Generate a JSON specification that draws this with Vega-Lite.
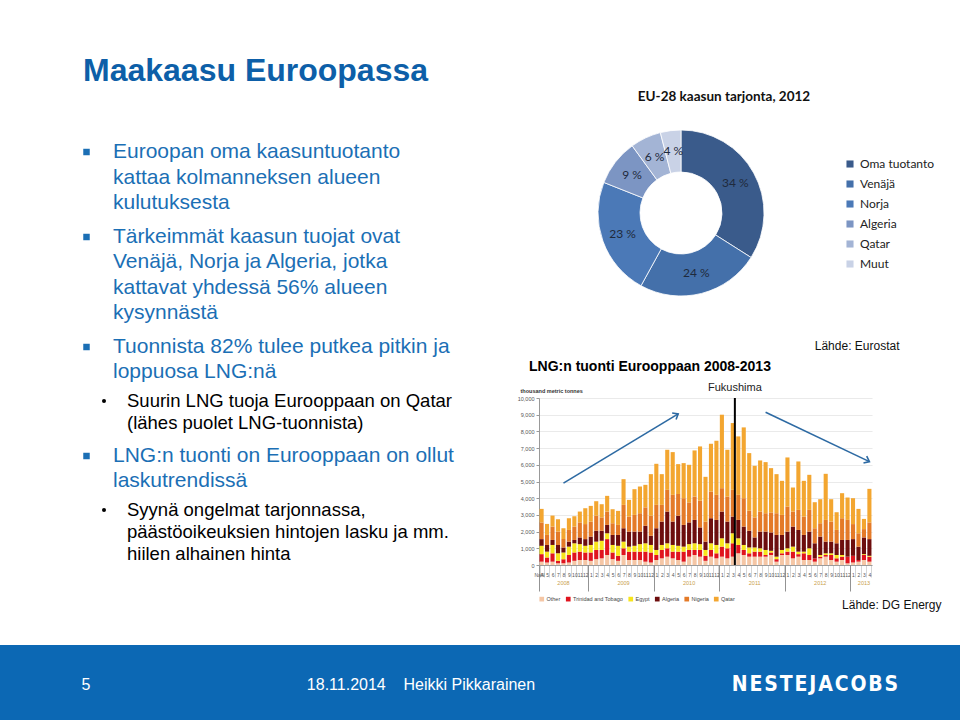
{
"$schema": "https://vega.github.io/schema/vega-lite/v6.json",
"background": "white",
"padding": 0,
"bounds": "full",
"spacing": 0,
"resolve": {"scale": {"color": "independent"}},
"config": {"view": {"stroke": null}, "font": "Liberation Sans"},
"vconcat": [
 {"hconcat": [
  {"vconcat": [
   {"width": 517, "height": 135,
    "data": {"values": [{"taso": 0, "teksti": "Maakaasu Euroopassa"}]},
    "mark": {"type": "text", "align": "left", "baseline": "middle", "fontSize": 32, "fontWeight": "bold", "color": "#0d5fa8", "dy": 3},
    "encoding": {"x": {"field": "taso", "type": "ordinal", "scale": {"type": "point", "domain": [0], "range": [83, 83], "padding": 0}, "axis": null}, "text": {"field": "teksti"}}},
   {"width": 517, "height": 85,
    "data": {"values": [{"rivi": 1, "taso": 1, "teksti": "Euroopan oma kaasuntuotanto"}, {"rivi": 2, "taso": 1, "teksti": "kattaa kolmanneksen alueen"}, {"rivi": 3, "taso": 1, "teksti": "kulutuksesta"}]},
    "encoding": {"x": {"field": "taso", "type": "ordinal", "scale": {"type": "point", "domain": [1, 2], "range": [113, 127], "padding": 0}, "axis": null},
                 "y": {"field": "rivi", "type": "ordinal", "scale": {"type": "point", "padding": 0.667}, "axis": null}},
    "layer": [
     {"mark": {"type": "text", "align": "left", "baseline": "middle", "fontSize": 21, "color": "#1b6fb5"}, "encoding": {"text": {"field": "teksti"}}},
     {"transform": [{"filter": "datum.rivi == 1"}], "mark": {"type": "square", "size": 42, "color": "#1b6fb5", "opacity": 1, "xOffset": -26.5}}
    ]},
   {"width": 517, "height": 110,
    "data": {"values": [{"rivi": 1, "taso": 1, "teksti": "Tärkeimmät kaasun tuojat ovat"}, {"rivi": 2, "taso": 1, "teksti": "Venäjä, Norja ja Algeria, jotka"}, {"rivi": 3, "taso": 1, "teksti": "kattavat yhdessä 56% alueen"}, {"rivi": 4, "taso": 1, "teksti": "kysynnästä"}]},
    "encoding": {"x": {"field": "taso", "type": "ordinal", "scale": {"type": "point", "domain": [1, 2], "range": [113, 127], "padding": 0}, "axis": null},
                 "y": {"field": "rivi", "type": "ordinal", "scale": {"type": "point", "padding": 0.671}, "axis": null}},
    "layer": [
     {"mark": {"type": "text", "align": "left", "baseline": "middle", "fontSize": 21, "color": "#1b6fb5"}, "encoding": {"text": {"field": "teksti"}}},
     {"transform": [{"filter": "datum.rivi == 1"}], "mark": {"type": "square", "size": 42, "color": "#1b6fb5", "opacity": 1, "xOffset": -26.5}}
    ]},
   {"width": 517, "height": 59,
    "data": {"values": [{"rivi": 1, "taso": 1, "teksti": "Tuonnista 82% tulee putkea pitkin ja"}, {"rivi": 2, "taso": 1, "teksti": "loppuosa LNG:nä"}]},
    "encoding": {"x": {"field": "taso", "type": "ordinal", "scale": {"type": "point", "domain": [1, 2], "range": [113, 127], "padding": 0}, "axis": null},
                 "y": {"field": "rivi", "type": "ordinal", "scale": {"type": "point", "padding": 0.68}, "axis": null}},
    "layer": [
     {"mark": {"type": "text", "align": "left", "baseline": "middle", "fontSize": 21, "color": "#1b6fb5"}, "encoding": {"text": {"field": "teksti"}}},
     {"transform": [{"filter": "datum.rivi == 1"}], "mark": {"type": "square", "size": 42, "color": "#1b6fb5", "opacity": 1, "xOffset": -26.5}}
    ]},
   {"width": 517, "height": 46,
    "data": {"values": [{"rivi": 1, "taso": 2, "teksti": "Suurin LNG tuoja Eurooppaan on Qatar"}, {"rivi": 2, "taso": 2, "teksti": "(lähes puolet LNG-tuonnista)"}]},
    "encoding": {"x": {"field": "taso", "type": "ordinal", "scale": {"type": "point", "domain": [1, 2], "range": [113, 127], "padding": 0}, "axis": null},
                 "y": {"field": "rivi", "type": "ordinal", "scale": {"type": "point", "padding": 0.5455}, "axis": null}},
    "layer": [
     {"mark": {"type": "text", "align": "left", "baseline": "middle", "fontSize": 18.5, "color": "#000000"}, "encoding": {"text": {"field": "teksti"}}},
     {"transform": [{"filter": "datum.rivi == 1"}], "mark": {"type": "circle", "size": 16, "color": "#000000", "opacity": 1, "xOffset": -23}}
    ]},
   {"width": 517, "height": 67,
    "data": {"values": [{"rivi": 1, "taso": 1, "teksti": "LNG:n tuonti on Eurooppaan on ollut"}, {"rivi": 2, "taso": 1, "teksti": "laskutrendissä"}]},
    "encoding": {"x": {"field": "taso", "type": "ordinal", "scale": {"type": "point", "domain": [1, 2], "range": [113, 127], "padding": 0}, "axis": null},
                 "y": {"field": "rivi", "type": "ordinal", "scale": {"type": "point", "padding": 0.84}, "axis": null}},
    "layer": [
     {"mark": {"type": "text", "align": "left", "baseline": "middle", "fontSize": 21, "color": "#1b6fb5"}, "encoding": {"text": {"field": "teksti"}}},
     {"transform": [{"filter": "datum.rivi == 1"}], "mark": {"type": "square", "size": 42, "color": "#1b6fb5", "opacity": 1, "xOffset": -26.5}}
    ]},
   {"width": 517, "height": 60,
    "data": {"values": [{"rivi": 1, "taso": 2, "teksti": "Syynä ongelmat tarjonnassa,"}, {"rivi": 2, "taso": 2, "teksti": "päästöoikeuksien hintojen lasku ja mm."}, {"rivi": 3, "taso": 2, "teksti": "hiilen alhainen hinta"}]},
    "encoding": {"x": {"field": "taso", "type": "ordinal", "scale": {"type": "point", "domain": [1, 2], "range": [113, 127], "padding": 0}, "axis": null},
                 "y": {"field": "rivi", "type": "ordinal", "scale": {"type": "point", "padding": 0.3636}, "axis": null}},
    "layer": [
     {"mark": {"type": "text", "align": "left", "baseline": "middle", "fontSize": 18.5, "color": "#000000"}, "encoding": {"text": {"field": "teksti"}}},
     {"transform": [{"filter": "datum.rivi == 1"}], "mark": {"type": "circle", "size": 16, "color": "#000000", "opacity": 1, "xOffset": -23}}
    ]},
   {"width": 517, "height": 83, "data": {"values": []}, "mark": "point", "encoding": {}}
  ], "spacing": 0, "bounds": "flush"},
  {"vconcat": [
   {"width": 10, "height": 100, "data": {"values": []}, "mark": "point", "encoding": {}},
   {"width": 284, "height": 226,
    "title": {"text": "EU-28 kaasun tarjonta, 2012", "font": "Lato", "fontSize": 13.5, "fontWeight": "bold", "color": "#111111", "anchor": "middle", "dx": 43, "offset": -10, "baseline": "middle", "frame": "group"},
    "data": {"values": [{"lahde": "Oma tuotanto", "osuus": 34, "jarj": 1}, {"lahde": "Venäjä", "osuus": 24, "jarj": 2}, {"lahde": "Norja", "osuus": 23, "jarj": 3}, {"lahde": "Algeria", "osuus": 9, "jarj": 4}, {"lahde": "Qatar", "osuus": 6, "jarj": 5}, {"lahde": "Muut", "osuus": 4, "jarj": 6}]},
    "encoding": {"theta": {"field": "osuus", "type": "quantitative", "stack": true}, "order": {"field": "jarj", "type": "quantitative", "sort": "ascending"}},
    "layer": [
     {"mark": {"type": "arc", "outerRadius": 83, "innerRadius": 41, "stroke": "#ffffff", "strokeWidth": 0.8},
      "encoding": {"color": {"field": "lahde", "type": "nominal", "sort": ["Oma tuotanto", "Venäjä", "Norja", "Algeria", "Qatar", "Muut"],
        "scale": {"domain": ["Oma tuotanto", "Venäjä", "Norja", "Algeria", "Qatar", "Muut"], "range": ["#3a5b8b", "#4470aa", "#4b79b7", "#7c95c3", "#a3b4d5", "#c9d2e6"]},
        "legend": {"orient": "none", "legendX": 305, "legendY": 58, "title": null, "labelFont": "Lato", "labelFontSize": 12, "labelColor": "#222222", "symbolType": "square", "symbolSize": 50, "symbolStrokeWidth": 0, "rowPadding": 8, "labelOffset": 4}}}},
     {"mark": {"type": "text", "radius": 62, "font": "Lato", "fontSize": 12, "color": "#1f2a3c"},
      "encoding": {"text": {"value": {"expr": "datum.osuus + ' %'"}}}}
    ]},
   {"width": 10, "height": 72, "data": {"values": []}, "mark": "point", "encoding": {}},
   {"width": 333, "height": 167,
    "title": {"text": "LNG:n tuonti Eurooppaan 2008-2013", "anchor": "start", "dx": -10, "frame": "group", "offset": -41, "baseline": "middle", "fontSize": 14, "fontWeight": "bold", "font": "Liberation Sans", "color": "#000000"},
    "resolve": {"axis": {"x": "independent", "y": "independent"}},
    "layer": [
     {"data": {"values": [
{"kk":"2008-04","alkupera":"Other","t":200},{"kk":"2008-04","alkupera":"Trinidad and Tobago","t":450},{"kk":"2008-04","alkupera":"Egypt","t":500},{"kk":"2008-04","alkupera":"Algeria","t":400},{"kk":"2008-04","alkupera":"Nigeria","t":1000},{"kk":"2008-04","alkupera":"Qatar","t":810},
{"kk":"2008-05","alkupera":"Other","t":150},{"kk":"2008-05","alkupera":"Trinidad and Tobago","t":300},{"kk":"2008-05","alkupera":"Egypt","t":350},{"kk":"2008-05","alkupera":"Algeria","t":400},{"kk":"2008-05","alkupera":"Nigeria","t":600},{"kk":"2008-05","alkupera":"Qatar","t":660},
{"kk":"2008-06","alkupera":"Other","t":200},{"kk":"2008-06","alkupera":"Trinidad and Tobago","t":500},{"kk":"2008-06","alkupera":"Egypt","t":500},{"kk":"2008-06","alkupera":"Algeria","t":300},{"kk":"2008-06","alkupera":"Nigeria","t":800},{"kk":"2008-06","alkupera":"Qatar","t":660},
{"kk":"2008-07","alkupera":"Other","t":100},{"kk":"2008-07","alkupera":"Trinidad and Tobago","t":150},{"kk":"2008-07","alkupera":"Egypt","t":450},{"kk":"2008-07","alkupera":"Algeria","t":500},{"kk":"2008-07","alkupera":"Nigeria","t":800},{"kk":"2008-07","alkupera":"Qatar","t":740},
{"kk":"2008-08","alkupera":"Other","t":100},{"kk":"2008-08","alkupera":"Trinidad and Tobago","t":250},{"kk":"2008-08","alkupera":"Egypt","t":400},{"kk":"2008-08","alkupera":"Algeria","t":300},{"kk":"2008-08","alkupera":"Nigeria","t":500},{"kk":"2008-08","alkupera":"Qatar","t":650},
{"kk":"2008-09","alkupera":"Other","t":150},{"kk":"2008-09","alkupera":"Trinidad and Tobago","t":450},{"kk":"2008-09","alkupera":"Egypt","t":500},{"kk":"2008-09","alkupera":"Algeria","t":300},{"kk":"2008-09","alkupera":"Nigeria","t":700},{"kk":"2008-09","alkupera":"Qatar","t":700},
{"kk":"2008-10","alkupera":"Other","t":250},{"kk":"2008-10","alkupera":"Trinidad and Tobago","t":500},{"kk":"2008-10","alkupera":"Egypt","t":550},{"kk":"2008-10","alkupera":"Algeria","t":200},{"kk":"2008-10","alkupera":"Nigeria","t":800},{"kk":"2008-10","alkupera":"Qatar","t":620},
{"kk":"2008-11","alkupera":"Other","t":300},{"kk":"2008-11","alkupera":"Trinidad and Tobago","t":500},{"kk":"2008-11","alkupera":"Egypt","t":450},{"kk":"2008-11","alkupera":"Algeria","t":400},{"kk":"2008-11","alkupera":"Nigeria","t":900},{"kk":"2008-11","alkupera":"Qatar","t":650},
{"kk":"2008-12","alkupera":"Other","t":300},{"kk":"2008-12","alkupera":"Trinidad and Tobago","t":450},{"kk":"2008-12","alkupera":"Egypt","t":400},{"kk":"2008-12","alkupera":"Algeria","t":400},{"kk":"2008-12","alkupera":"Nigeria","t":900},{"kk":"2008-12","alkupera":"Qatar","t":950},
{"kk":"2009-01","alkupera":"Other","t":250},{"kk":"2009-01","alkupera":"Trinidad and Tobago","t":500},{"kk":"2009-01","alkupera":"Egypt","t":450},{"kk":"2009-01","alkupera":"Algeria","t":500},{"kk":"2009-01","alkupera":"Nigeria","t":900},{"kk":"2009-01","alkupera":"Qatar","t":940},
{"kk":"2009-02","alkupera":"Other","t":350},{"kk":"2009-02","alkupera":"Trinidad and Tobago","t":550},{"kk":"2009-02","alkupera":"Egypt","t":500},{"kk":"2009-02","alkupera":"Algeria","t":650},{"kk":"2009-02","alkupera":"Nigeria","t":900},{"kk":"2009-02","alkupera":"Qatar","t":870},
{"kk":"2009-03","alkupera":"Other","t":400},{"kk":"2009-03","alkupera":"Trinidad and Tobago","t":500},{"kk":"2009-03","alkupera":"Egypt","t":550},{"kk":"2009-03","alkupera":"Algeria","t":600},{"kk":"2009-03","alkupera":"Nigeria","t":800},{"kk":"2009-03","alkupera":"Qatar","t":790},
{"kk":"2009-04","alkupera":"Other","t":600},{"kk":"2009-04","alkupera":"Trinidad and Tobago","t":950},{"kk":"2009-04","alkupera":"Egypt","t":350},{"kk":"2009-04","alkupera":"Algeria","t":500},{"kk":"2009-04","alkupera":"Nigeria","t":800},{"kk":"2009-04","alkupera":"Qatar","t":940},
{"kk":"2009-05","alkupera":"Other","t":350},{"kk":"2009-05","alkupera":"Trinidad and Tobago","t":400},{"kk":"2009-05","alkupera":"Egypt","t":450},{"kk":"2009-05","alkupera":"Algeria","t":600},{"kk":"2009-05","alkupera":"Nigeria","t":700},{"kk":"2009-05","alkupera":"Qatar","t":840},
{"kk":"2009-06","alkupera":"Other","t":250},{"kk":"2009-06","alkupera":"Trinidad and Tobago","t":300},{"kk":"2009-06","alkupera":"Egypt","t":600},{"kk":"2009-06","alkupera":"Algeria","t":650},{"kk":"2009-06","alkupera":"Nigeria","t":600},{"kk":"2009-06","alkupera":"Qatar","t":840},
{"kk":"2009-07","alkupera":"Other","t":600},{"kk":"2009-07","alkupera":"Trinidad and Tobago","t":400},{"kk":"2009-07","alkupera":"Egypt","t":400},{"kk":"2009-07","alkupera":"Algeria","t":800},{"kk":"2009-07","alkupera":"Nigeria","t":1400},{"kk":"2009-07","alkupera":"Qatar","t":1540},
{"kk":"2009-08","alkupera":"Other","t":300},{"kk":"2009-08","alkupera":"Trinidad and Tobago","t":500},{"kk":"2009-08","alkupera":"Egypt","t":300},{"kk":"2009-08","alkupera":"Algeria","t":900},{"kk":"2009-08","alkupera":"Nigeria","t":900},{"kk":"2009-08","alkupera":"Qatar","t":1000},
{"kk":"2009-09","alkupera":"Other","t":300},{"kk":"2009-09","alkupera":"Trinidad and Tobago","t":500},{"kk":"2009-09","alkupera":"Egypt","t":350},{"kk":"2009-09","alkupera":"Algeria","t":850},{"kk":"2009-09","alkupera":"Nigeria","t":1000},{"kk":"2009-09","alkupera":"Qatar","t":1540},
{"kk":"2009-10","alkupera":"Other","t":300},{"kk":"2009-10","alkupera":"Trinidad and Tobago","t":500},{"kk":"2009-10","alkupera":"Egypt","t":450},{"kk":"2009-10","alkupera":"Algeria","t":750},{"kk":"2009-10","alkupera":"Nigeria","t":1100},{"kk":"2009-10","alkupera":"Qatar","t":1600},
{"kk":"2009-11","alkupera":"Other","t":200},{"kk":"2009-11","alkupera":"Trinidad and Tobago","t":600},{"kk":"2009-11","alkupera":"Egypt","t":500},{"kk":"2009-11","alkupera":"Algeria","t":1050},{"kk":"2009-11","alkupera":"Nigeria","t":1100},{"kk":"2009-11","alkupera":"Qatar","t":1350},
{"kk":"2009-12","alkupera":"Other","t":150},{"kk":"2009-12","alkupera":"Trinidad and Tobago","t":600},{"kk":"2009-12","alkupera":"Egypt","t":450},{"kk":"2009-12","alkupera":"Algeria","t":550},{"kk":"2009-12","alkupera":"Nigeria","t":1200},{"kk":"2009-12","alkupera":"Qatar","t":2490},
{"kk":"2010-01","alkupera":"Other","t":300},{"kk":"2010-01","alkupera":"Trinidad and Tobago","t":300},{"kk":"2010-01","alkupera":"Egypt","t":300},{"kk":"2010-01","alkupera":"Algeria","t":1300},{"kk":"2010-01","alkupera":"Nigeria","t":1400},{"kk":"2010-01","alkupera":"Qatar","t":2460},
{"kk":"2010-02","alkupera":"Other","t":400},{"kk":"2010-02","alkupera":"Trinidad and Tobago","t":500},{"kk":"2010-02","alkupera":"Egypt","t":300},{"kk":"2010-02","alkupera":"Algeria","t":1400},{"kk":"2010-02","alkupera":"Nigeria","t":1000},{"kk":"2010-02","alkupera":"Qatar","t":1840},
{"kk":"2010-03","alkupera":"Other","t":500},{"kk":"2010-03","alkupera":"Trinidad and Tobago","t":500},{"kk":"2010-03","alkupera":"Egypt","t":300},{"kk":"2010-03","alkupera":"Algeria","t":1900},{"kk":"2010-03","alkupera":"Nigeria","t":1300},{"kk":"2010-03","alkupera":"Qatar","t":2400},
{"kk":"2010-04","alkupera":"Other","t":400},{"kk":"2010-04","alkupera":"Trinidad and Tobago","t":400},{"kk":"2010-04","alkupera":"Egypt","t":400},{"kk":"2010-04","alkupera":"Algeria","t":1400},{"kk":"2010-04","alkupera":"Nigeria","t":1600},{"kk":"2010-04","alkupera":"Qatar","t":2560},
{"kk":"2010-05","alkupera":"Other","t":300},{"kk":"2010-05","alkupera":"Trinidad and Tobago","t":500},{"kk":"2010-05","alkupera":"Egypt","t":350},{"kk":"2010-05","alkupera":"Algeria","t":1800},{"kk":"2010-05","alkupera":"Nigeria","t":1300},{"kk":"2010-05","alkupera":"Qatar","t":1790},
{"kk":"2010-06","alkupera":"Other","t":200},{"kk":"2010-06","alkupera":"Trinidad and Tobago","t":600},{"kk":"2010-06","alkupera":"Egypt","t":300},{"kk":"2010-06","alkupera":"Algeria","t":1300},{"kk":"2010-06","alkupera":"Nigeria","t":1600},{"kk":"2010-06","alkupera":"Qatar","t":2100},
{"kk":"2010-07","alkupera":"Other","t":500},{"kk":"2010-07","alkupera":"Trinidad and Tobago","t":400},{"kk":"2010-07","alkupera":"Egypt","t":350},{"kk":"2010-07","alkupera":"Algeria","t":1300},{"kk":"2010-07","alkupera":"Nigeria","t":1200},{"kk":"2010-07","alkupera":"Qatar","t":2250},
{"kk":"2010-08","alkupera":"Other","t":600},{"kk":"2010-08","alkupera":"Trinidad and Tobago","t":300},{"kk":"2010-08","alkupera":"Egypt","t":400},{"kk":"2010-08","alkupera":"Algeria","t":1400},{"kk":"2010-08","alkupera":"Nigeria","t":1400},{"kk":"2010-08","alkupera":"Qatar","t":2760},
{"kk":"2010-09","alkupera":"Other","t":500},{"kk":"2010-09","alkupera":"Trinidad and Tobago","t":400},{"kk":"2010-09","alkupera":"Egypt","t":350},{"kk":"2010-09","alkupera":"Algeria","t":1000},{"kk":"2010-09","alkupera":"Nigeria","t":1600},{"kk":"2010-09","alkupera":"Qatar","t":3250},
{"kk":"2010-10","alkupera":"Other","t":250},{"kk":"2010-10","alkupera":"Trinidad and Tobago","t":300},{"kk":"2010-10","alkupera":"Egypt","t":350},{"kk":"2010-10","alkupera":"Algeria","t":500},{"kk":"2010-10","alkupera":"Nigeria","t":1200},{"kk":"2010-10","alkupera":"Qatar","t":2680},
{"kk":"2010-11","alkupera":"Other","t":500},{"kk":"2010-11","alkupera":"Trinidad and Tobago","t":400},{"kk":"2010-11","alkupera":"Egypt","t":400},{"kk":"2010-11","alkupera":"Algeria","t":1500},{"kk":"2010-11","alkupera":"Nigeria","t":1600},{"kk":"2010-11","alkupera":"Qatar","t":2860},
{"kk":"2010-12","alkupera":"Other","t":400},{"kk":"2010-12","alkupera":"Trinidad and Tobago","t":300},{"kk":"2010-12","alkupera":"Egypt","t":500},{"kk":"2010-12","alkupera":"Algeria","t":1500},{"kk":"2010-12","alkupera":"Nigeria","t":1500},{"kk":"2010-12","alkupera":"Qatar","t":3240},
{"kk":"2011-01","alkupera":"Other","t":500},{"kk":"2011-01","alkupera":"Trinidad and Tobago","t":600},{"kk":"2011-01","alkupera":"Egypt","t":500},{"kk":"2011-01","alkupera":"Algeria","t":1600},{"kk":"2011-01","alkupera":"Nigeria","t":1400},{"kk":"2011-01","alkupera":"Qatar","t":4400},
{"kk":"2011-02","alkupera":"Other","t":400},{"kk":"2011-02","alkupera":"Trinidad and Tobago","t":600},{"kk":"2011-02","alkupera":"Egypt","t":300},{"kk":"2011-02","alkupera":"Algeria","t":1300},{"kk":"2011-02","alkupera":"Nigeria","t":1500},{"kk":"2011-02","alkupera":"Qatar","t":2800},
{"kk":"2011-03","alkupera":"Other","t":500},{"kk":"2011-03","alkupera":"Trinidad and Tobago","t":800},{"kk":"2011-03","alkupera":"Egypt","t":600},{"kk":"2011-03","alkupera":"Algeria","t":1000},{"kk":"2011-03","alkupera":"Nigeria","t":1600},{"kk":"2011-03","alkupera":"Qatar","t":4000},
{"kk":"2011-04","alkupera":"Other","t":700},{"kk":"2011-04","alkupera":"Trinidad and Tobago","t":500},{"kk":"2011-04","alkupera":"Egypt","t":400},{"kk":"2011-04","alkupera":"Algeria","t":1100},{"kk":"2011-04","alkupera":"Nigeria","t":1500},{"kk":"2011-04","alkupera":"Qatar","t":3500},
{"kk":"2011-05","alkupera":"Other","t":600},{"kk":"2011-05","alkupera":"Trinidad and Tobago","t":300},{"kk":"2011-05","alkupera":"Egypt","t":300},{"kk":"2011-05","alkupera":"Algeria","t":1100},{"kk":"2011-05","alkupera":"Nigeria","t":1700},{"kk":"2011-05","alkupera":"Qatar","t":4240},
{"kk":"2011-06","alkupera":"Other","t":500},{"kk":"2011-06","alkupera":"Trinidad and Tobago","t":200},{"kk":"2011-06","alkupera":"Egypt","t":350},{"kk":"2011-06","alkupera":"Algeria","t":1000},{"kk":"2011-06","alkupera":"Nigeria","t":1200},{"kk":"2011-06","alkupera":"Qatar","t":3450},
{"kk":"2011-07","alkupera":"Other","t":500},{"kk":"2011-07","alkupera":"Trinidad and Tobago","t":300},{"kk":"2011-07","alkupera":"Egypt","t":250},{"kk":"2011-07","alkupera":"Algeria","t":600},{"kk":"2011-07","alkupera":"Nigeria","t":1200},{"kk":"2011-07","alkupera":"Qatar","t":3090},
{"kk":"2011-08","alkupera":"Other","t":500},{"kk":"2011-08","alkupera":"Trinidad and Tobago","t":300},{"kk":"2011-08","alkupera":"Egypt","t":200},{"kk":"2011-08","alkupera":"Algeria","t":1000},{"kk":"2011-08","alkupera":"Nigeria","t":1200},{"kk":"2011-08","alkupera":"Qatar","t":3060},
{"kk":"2011-09","alkupera":"Other","t":500},{"kk":"2011-09","alkupera":"Trinidad and Tobago","t":100},{"kk":"2011-09","alkupera":"Egypt","t":300},{"kk":"2011-09","alkupera":"Algeria","t":1100},{"kk":"2011-09","alkupera":"Nigeria","t":1100},{"kk":"2011-09","alkupera":"Qatar","t":3060},
{"kk":"2011-10","alkupera":"Other","t":600},{"kk":"2011-10","alkupera":"Trinidad and Tobago","t":150},{"kk":"2011-10","alkupera":"Egypt","t":100},{"kk":"2011-10","alkupera":"Algeria","t":1100},{"kk":"2011-10","alkupera":"Nigeria","t":1200},{"kk":"2011-10","alkupera":"Qatar","t":2650},
{"kk":"2011-11","alkupera":"Other","t":200},{"kk":"2011-11","alkupera":"Trinidad and Tobago","t":150},{"kk":"2011-11","alkupera":"Egypt","t":150},{"kk":"2011-11","alkupera":"Algeria","t":1300},{"kk":"2011-11","alkupera":"Nigeria","t":1300},{"kk":"2011-11","alkupera":"Qatar","t":2340},
{"kk":"2011-12","alkupera":"Other","t":600},{"kk":"2011-12","alkupera":"Trinidad and Tobago","t":100},{"kk":"2011-12","alkupera":"Egypt","t":200},{"kk":"2011-12","alkupera":"Algeria","t":900},{"kk":"2011-12","alkupera":"Nigeria","t":1200},{"kk":"2011-12","alkupera":"Qatar","t":2040},
{"kk":"2012-01","alkupera":"Other","t":600},{"kk":"2012-01","alkupera":"Trinidad and Tobago","t":200},{"kk":"2012-01","alkupera":"Egypt","t":200},{"kk":"2012-01","alkupera":"Algeria","t":1000},{"kk":"2012-01","alkupera":"Nigeria","t":1500},{"kk":"2012-01","alkupera":"Qatar","t":2940},
{"kk":"2012-02","alkupera":"Other","t":400},{"kk":"2012-02","alkupera":"Trinidad and Tobago","t":400},{"kk":"2012-02","alkupera":"Egypt","t":300},{"kk":"2012-02","alkupera":"Algeria","t":1200},{"kk":"2012-02","alkupera":"Nigeria","t":900},{"kk":"2012-02","alkupera":"Qatar","t":1440},
{"kk":"2012-03","alkupera":"Other","t":500},{"kk":"2012-03","alkupera":"Trinidad and Tobago","t":150},{"kk":"2012-03","alkupera":"Egypt","t":150},{"kk":"2012-03","alkupera":"Algeria","t":1300},{"kk":"2012-03","alkupera":"Nigeria","t":1200},{"kk":"2012-03","alkupera":"Qatar","t":2900},
{"kk":"2012-04","alkupera":"Other","t":300},{"kk":"2012-04","alkupera":"Trinidad and Tobago","t":400},{"kk":"2012-04","alkupera":"Egypt","t":100},{"kk":"2012-04","alkupera":"Algeria","t":1000},{"kk":"2012-04","alkupera":"Nigeria","t":1100},{"kk":"2012-04","alkupera":"Qatar","t":2140},
{"kk":"2012-05","alkupera":"Other","t":300},{"kk":"2012-05","alkupera":"Trinidad and Tobago","t":300},{"kk":"2012-05","alkupera":"Egypt","t":400},{"kk":"2012-05","alkupera":"Algeria","t":1000},{"kk":"2012-05","alkupera":"Nigeria","t":1300},{"kk":"2012-05","alkupera":"Qatar","t":2100},
{"kk":"2012-06","alkupera":"Other","t":200},{"kk":"2012-06","alkupera":"Trinidad and Tobago","t":200},{"kk":"2012-06","alkupera":"Egypt","t":0},{"kk":"2012-06","alkupera":"Algeria","t":900},{"kk":"2012-06","alkupera":"Nigeria","t":900},{"kk":"2012-06","alkupera":"Qatar","t":1560},
{"kk":"2012-07","alkupera":"Other","t":400},{"kk":"2012-07","alkupera":"Trinidad and Tobago","t":100},{"kk":"2012-07","alkupera":"Egypt","t":100},{"kk":"2012-07","alkupera":"Algeria","t":1100},{"kk":"2012-07","alkupera":"Nigeria","t":800},{"kk":"2012-07","alkupera":"Qatar","t":1440},
{"kk":"2012-08","alkupera":"Other","t":500},{"kk":"2012-08","alkupera":"Trinidad and Tobago","t":100},{"kk":"2012-08","alkupera":"Egypt","t":100},{"kk":"2012-08","alkupera":"Algeria","t":700},{"kk":"2012-08","alkupera":"Nigeria","t":1300},{"kk":"2012-08","alkupera":"Qatar","t":2760},
{"kk":"2012-09","alkupera":"Other","t":300},{"kk":"2012-09","alkupera":"Trinidad and Tobago","t":300},{"kk":"2012-09","alkupera":"Egypt","t":100},{"kk":"2012-09","alkupera":"Algeria","t":700},{"kk":"2012-09","alkupera":"Nigeria","t":1200},{"kk":"2012-09","alkupera":"Qatar","t":1340},
{"kk":"2012-10","alkupera":"Other","t":200},{"kk":"2012-10","alkupera":"Trinidad and Tobago","t":200},{"kk":"2012-10","alkupera":"Egypt","t":200},{"kk":"2012-10","alkupera":"Algeria","t":700},{"kk":"2012-10","alkupera":"Nigeria","t":800},{"kk":"2012-10","alkupera":"Qatar","t":1060},
{"kk":"2012-11","alkupera":"Other","t":300},{"kk":"2012-11","alkupera":"Trinidad and Tobago","t":200},{"kk":"2012-11","alkupera":"Egypt","t":100},{"kk":"2012-11","alkupera":"Algeria","t":900},{"kk":"2012-11","alkupera":"Nigeria","t":1300},{"kk":"2012-11","alkupera":"Qatar","t":1500},
{"kk":"2012-12","alkupera":"Other","t":100},{"kk":"2012-12","alkupera":"Trinidad and Tobago","t":400},{"kk":"2012-12","alkupera":"Egypt","t":0},{"kk":"2012-12","alkupera":"Algeria","t":1000},{"kk":"2012-12","alkupera":"Nigeria","t":1200},{"kk":"2012-12","alkupera":"Qatar","t":1340},
{"kk":"2013-01","alkupera":"Other","t":150},{"kk":"2013-01","alkupera":"Trinidad and Tobago","t":400},{"kk":"2013-01","alkupera":"Egypt","t":0},{"kk":"2013-01","alkupera":"Algeria","t":1000},{"kk":"2013-01","alkupera":"Nigeria","t":900},{"kk":"2013-01","alkupera":"Qatar","t":1550},
{"kk":"2013-02","alkupera":"Other","t":200},{"kk":"2013-02","alkupera":"Trinidad and Tobago","t":100},{"kk":"2013-02","alkupera":"Egypt","t":0},{"kk":"2013-02","alkupera":"Algeria","t":800},{"kk":"2013-02","alkupera":"Nigeria","t":800},{"kk":"2013-02","alkupera":"Qatar","t":1460},
{"kk":"2013-03","alkupera":"Other","t":300},{"kk":"2013-03","alkupera":"Trinidad and Tobago","t":300},{"kk":"2013-03","alkupera":"Egypt","t":50},{"kk":"2013-03","alkupera":"Algeria","t":1000},{"kk":"2013-03","alkupera":"Nigeria","t":500},{"kk":"2013-03","alkupera":"Qatar","t":610},
{"kk":"2013-04","alkupera":"Other","t":200},{"kk":"2013-04","alkupera":"Trinidad and Tobago","t":300},{"kk":"2013-04","alkupera":"Egypt","t":50},{"kk":"2013-04","alkupera":"Algeria","t":1000},{"kk":"2013-04","alkupera":"Nigeria","t":1000},{"kk":"2013-04","alkupera":"Qatar","t":2010}
      ]},
      "transform": [{"lookup": "alkupera", "from": {"data": {"values": [{"alkupera": "Other", "pino": 1}, {"alkupera": "Trinidad and Tobago", "pino": 2}, {"alkupera": "Egypt", "pino": 3}, {"alkupera": "Algeria", "pino": 4}, {"alkupera": "Nigeria", "pino": 5}, {"alkupera": "Qatar", "pino": 6}]}, "key": "alkupera", "fields": ["pino"]}}],
      "mark": {"type": "bar"},
      "encoding": {
       "x": {"field": "kk", "type": "ordinal", "scale": {"paddingInner": 0.25, "paddingOuter": 0.1},
             "axis": {"title": null, "orient": "bottom", "labelExpr": "toNumber(substring(datum.value, 5, 7))", "labelFontSize": 5, "labelColor": "#555555", "labelAngle": 0, "labelPadding": -5, "labelBaseline": "top", "labelOverlap": false, "tickBand": "extent", "tickSize": 12, "tickColor": "#aaaaaa", "tickWidth": 0.5, "domainColor": "#888888", "domainWidth": 0.8}},
       "y": {"field": "t", "type": "quantitative", "stack": true, "scale": {"domain": [0, 10000]},
             "axis": {"title": "thousand metric tonnes", "titleAngle": 0, "titleAlign": "left", "titleBaseline": "middle", "titleX": -19, "titleY": -8, "titleFontSize": 5.5, "titleFontWeight": "bold", "titleColor": "#333333",
                      "values": [0, 1000, 2000, 3000, 4000, 5000, 6000, 7000, 8000, 9000, 10000], "format": ",d", "labelFontSize": 5.5, "labelColor": "#555555", "labelPadding": 2, "tickSize": 3, "tickColor": "#999999", "domainColor": "#999999", "gridColor": "#dcdcdc", "gridWidth": 0.6}},
       "order": {"field": "pino", "type": "quantitative", "sort": "ascending"},
       "color": {"field": "alkupera", "type": "nominal", "sort": ["Other", "Trinidad and Tobago", "Egypt", "Algeria", "Nigeria", "Qatar"],
                 "scale": {"domain": ["Other", "Trinidad and Tobago", "Egypt", "Algeria", "Nigeria", "Qatar"], "range": ["#f5c6a5", "#e0141e", "#f7e51c", "#6d0d0d", "#e47a28", "#f3a630"]},
                 "legend": {"orient": "none", "legendX": 0, "legendY": 198, "direction": "horizontal", "title": null, "labelFontSize": 5.5, "labelColor": "#444444", "symbolType": "square", "symbolSize": 22, "symbolStrokeWidth": 0, "columnPadding": 4.5, "labelOffset": 2}}
      }},
     {"data": {"values": [{"kk": "2011-03", "tapahtuma": "Fukushima"}]},
      "mark": {"type": "rule", "color": "#000000", "strokeWidth": 2},
      "encoding": {
       "x": {"field": "kk", "type": "ordinal", "bandPosition": 1,
             "axis": {"title": null, "orient": "bottom", "domain": false, "bandPosition": 0, "tickSize": 26, "tickColor": "#777777", "tickWidth": 0.8,
                      "tickOpacity": {"condition": {"test": "substring(datum.value, 5, 7) == '01' || datum.value == '2008-04'", "value": 1}, "value": 0},
                      "labelExpr": "indexof(['2008-08','2009-07','2010-07','2011-07','2012-07','2013-03'], datum.value) >= 0 ? substring(datum.value, 0, 4) : ''",
                      "labelFontSize": 5.5, "labelColor": "#c9a04a", "labelPadding": -10.5, "labelBaseline": "top", "labelAngle": 0, "labelOverlap": false}},
       "y": {"datum": 0, "type": "quantitative", "scale": {"domain": [0, 10000]}, "axis": null},
       "y2": {"datum": 10000}
      }},
     {"data": {"values": [{"kk": "2011-03", "tapahtuma": "Fukushima"}]},
      "mark": {"type": "text", "fontSize": 11, "color": "#222222", "baseline": "middle"},
      "encoding": {
       "x": {"field": "kk", "type": "ordinal", "bandPosition": 1, "axis": null},
       "y": {"datum": 10600, "type": "quantitative", "scale": {"domain": [0, 10000]}, "axis": null},
       "text": {"field": "tapahtuma"}
      }},
     {"data": {"values": [{"nuoli": "nousu", "kk": "2008-08", "arvo": 4900}, {"nuoli": "nousu", "kk": "2010-05", "arvo": 9050}, {"nuoli": "lasku", "kk": "2011-09", "arvo": 9150}, {"nuoli": "lasku", "kk": "2013-04", "arvo": 6190}]},
      "layer": [
       {"mark": {"type": "line", "color": "#2d6aa3", "strokeWidth": 1.6},
        "encoding": {"x": {"field": "kk", "type": "ordinal", "axis": null}, "y": {"field": "arvo", "type": "quantitative", "scale": {"domain": [0, 10000]}, "axis": null}, "detail": {"field": "nuoli"}}},
       {"transform": [{"filter": "datum.kk == '2010-05'"}],
        "mark": {"type": "point", "shape": "M -1 -0.8 L 0 0 L -1 0.8", "filled": false, "size": 90, "color": "#2d6aa3", "strokeWidth": 1.6, "opacity": 1, "angle": 329},
        "encoding": {"x": {"field": "kk", "type": "ordinal", "axis": null}, "y": {"field": "arvo", "type": "quantitative", "scale": {"domain": [0, 10000]}, "axis": null}}},
       {"transform": [{"filter": "datum.kk == '2013-04'"}],
        "mark": {"type": "point", "shape": "M -1 -0.8 L 0 0 L -1 0.8", "filled": false, "size": 90, "color": "#2d6aa3", "strokeWidth": 1.6, "opacity": 1, "angle": 25},
        "encoding": {"x": {"field": "kk", "type": "ordinal", "axis": null}, "y": {"field": "arvo", "type": "quantitative", "scale": {"domain": [0, 10000]}, "axis": null}}}
      ]},
     {"data": {"values": [{}]},
      "mark": {"type": "text", "align": "left", "baseline": "middle", "fontSize": 12, "color": "#111111"},
      "encoding": {"x": {"datum": "2012-06", "type": "ordinal", "axis": null}, "y": {"datum": 13100, "type": "quantitative", "scale": {"domain": [0, 10000]}, "axis": null}, "text": {"value": "Lähde: Eurostat"}}},
     {"data": {"values": [{}]},
      "mark": {"type": "text", "align": "left", "baseline": "middle", "fontSize": 12, "color": "#111111"},
      "encoding": {"x": {"datum": "2012-11", "type": "ordinal", "axis": null}, "y": {"datum": -2400, "type": "quantitative", "scale": {"domain": [0, 10000]}, "axis": null}, "text": {"value": "Lähde: DG Energy"}}}
    ]},
   {"width": 10, "height": 80, "data": {"values": []}, "mark": "point", "encoding": {}}
  ], "spacing": 0, "bounds": "flush", "resolve": {"scale": {"color": "independent"}}}
 ], "spacing": 0, "bounds": "full", "resolve": {"scale": {"color": "independent"}}},
 {"hconcat": [
  {"width": 172, "height": 75, "data": {"values": [{"teksti": "5"}]},
   "layer": [
    {"mark": {"type": "rect", "color": "#0c68b4"}, "encoding": {"x": {"value": 0}, "x2": {"value": "width"}, "y": {"value": 0}, "y2": {"value": "height"}}},
    {"mark": {"type": "text", "color": "#ffffff", "fontSize": 16, "baseline": "middle", "dy": 2}, "encoding": {"text": {"field": "teksti"}}}
   ]},
  {"width": 498, "height": 75, "data": {"values": [{"teksti": "18.11.2014\u00a0\u00a0\u00a0\u00a0Heikki Pikkarainen"}]},
   "layer": [
    {"mark": {"type": "rect", "color": "#0c68b4"}, "encoding": {"x": {"value": 0}, "x2": {"value": "width"}, "y": {"value": 0}, "y2": {"value": "height"}}},
    {"mark": {"type": "text", "color": "#ffffff", "fontSize": 16, "baseline": "middle", "dy": 2}, "encoding": {"text": {"field": "teksti"}}}
   ]},
  {"width": 290, "height": 75, "data": {"values": [{"teksti": "N\u200aE\u200aS\u200aT\u200aE\u200aJ\u200aA\u200aC\u200aO\u200aB\u200aS"}]},
   "layer": [
    {"mark": {"type": "rect", "color": "#0c68b4"}, "encoding": {"x": {"value": 0}, "x2": {"value": "width"}, "y": {"value": 0}, "y2": {"value": "height"}}},
    {"mark": {"type": "text", "color": "#ffffff", "fontSize": 21, "fontWeight": "bold", "font": "Liberation Sans Narrow, DejaVu Sans Condensed, Liberation Sans", "baseline": "middle", "dy": 2}, "encoding": {"text": {"field": "teksti"}}}
   ]}
 ], "spacing": 0, "bounds": "flush"}
]
}
